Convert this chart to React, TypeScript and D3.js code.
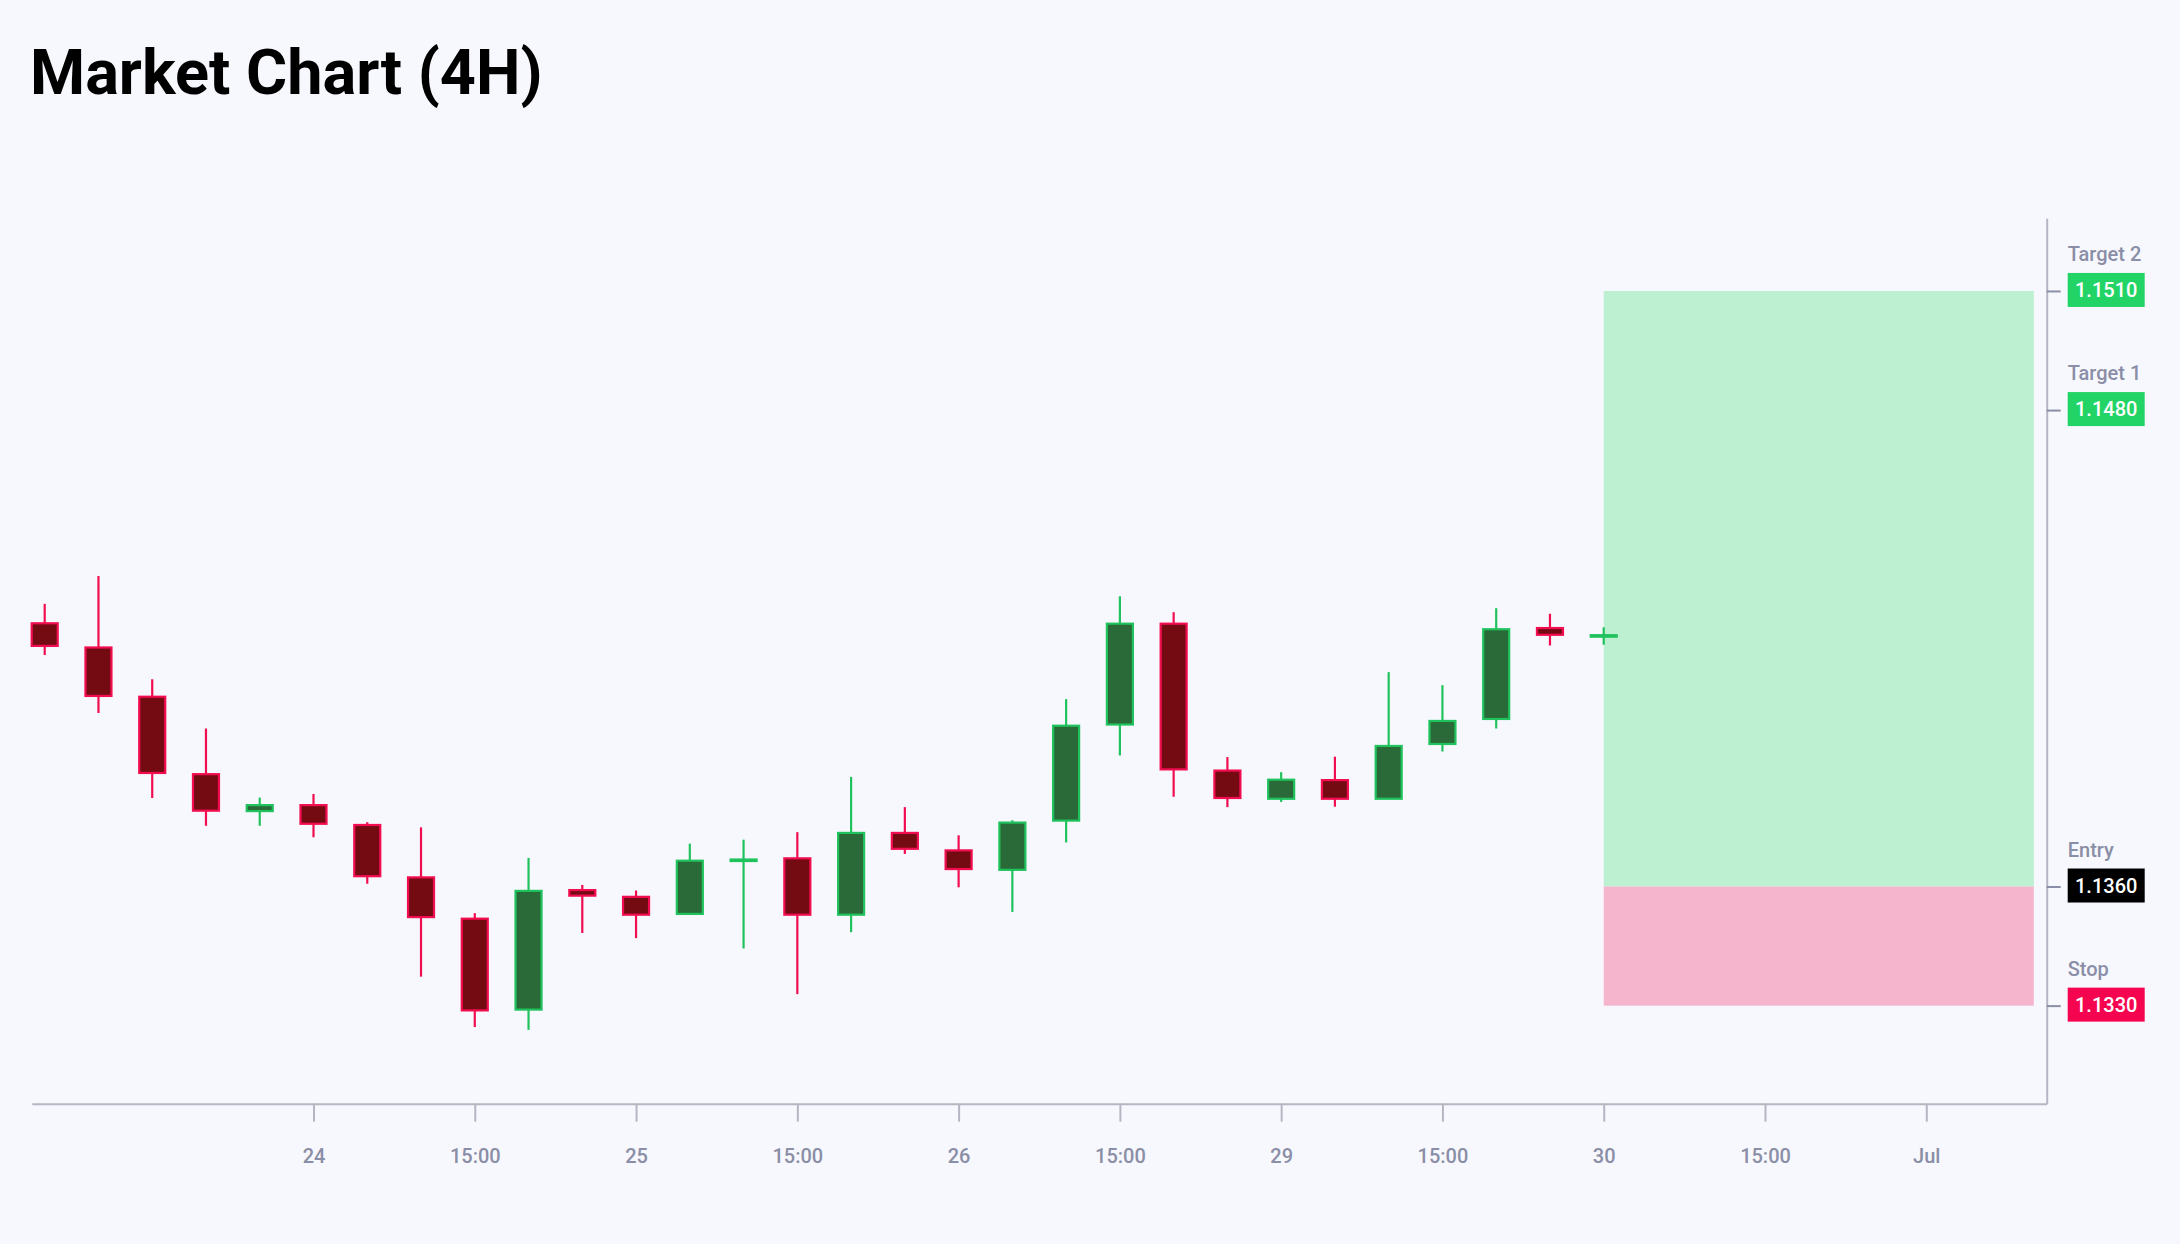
import { useEffect, useRef } from 'react';
import * as d3 from 'd3';

// 4H candles
const opens = [1.14263, 1.14202, 1.14078, 1.13883, 1.1379, 1.13805, 1.13755, 1.13623, 1.13519, 1.1329,
  1.13591, 1.13574, 1.13531, 1.13665, 1.13671, 1.13529, 1.13735, 1.13691, 1.13642, 1.13766,
  1.14008, 1.14262, 1.13892, 1.13821, 1.13868, 1.13821, 1.13959, 1.14022, 1.14251, 1.14231];
const highs = [1.14312, 1.14382, 1.14122, 1.13998, 1.13824, 1.13833, 1.13762, 1.13749, 1.13533, 1.13672,
  1.13604, 1.1359, 1.13708, 1.13718, 1.13737, 1.13876, 1.138, 1.13729, 1.13767, 1.14072,
  1.14331, 1.14291, 1.13926, 1.13888, 1.13927, 1.1414, 1.14107, 1.14301, 1.14287, 1.14253];
const lows = [1.14183, 1.14037, 1.13823, 1.13753, 1.13753, 1.13724, 1.13607, 1.13373, 1.13246, 1.13239,
  1.13483, 1.1347, 1.13531, 1.13444, 1.13329, 1.13485, 1.13682, 1.13598, 1.13536, 1.13711,
  1.1393, 1.13826, 1.138, 1.13813, 1.13801, 1.13821, 1.1394, 1.13998, 1.14207, 1.14209];
const closes = [1.14206, 1.1408, 1.13886, 1.13791, 1.13805, 1.13758, 1.13626, 1.13523, 1.13288, 1.13589,
  1.13577, 1.13529, 1.13665, 1.13668, 1.13529, 1.13735, 1.13695, 1.13644, 1.13761, 1.14005,
  1.14262, 1.13895, 1.13823, 1.13869, 1.13821, 1.13954, 1.14017, 1.14248, 1.14234, 1.14233];

// x ticks sit on candle indices
const tickIndex = [5, 8, 11, 14, 17, 20, 23, 26, 29, 32, 35];
const tickLabels = ["24", "15:00", "25", "15:00", "26", "15:00", "29", "15:00", "30", "15:00", "Jul"];

// trade levels
const levelNames = ["Target 2", "Target 1", "Entry", "Stop"];
const levelValues = [1.151, 1.148, 1.136, 1.133];
const levelColors = ["#22d466", "#22d466", "#000000", "#f5054f"];
const zoneStart = 29;
const zoneEnd = 37;

const UP = { stroke: "#1fc25c", fill: "#2a6a38" };
const DOWN = { stroke: "#f20d50", fill: "#740b12" };
const FONT = "Roboto, 'Noto Sans', sans-serif";

export default function App() {
  const svgRef = useRef<SVGSVGElement>(null);

  useEffect(() => {
    if (!svgRef.current) return;
    const svg = d3.select(svgRef.current);
    svg.selectAll("*").remove();

    const W = 2180, H = 1244;
    svg.append("rect").attr("width", W).attr("height", H).attr("fill", "#f7f8fd");

    svg.append("text")
      .text("Market Chart (4H)")
      .attr("x", 30).attr("y", 94)
      .style("font-family", FONT)
      .style("font-weight", 700)
      .style("font-size", "63px")
      .attr("fill", "#000");

    const x = d3.scaleLinear().domain([-0.24, 37.24]).range([31.8, 2046.7]);
    const y = d3.scaleLinear().domain([1.13053, 1.15283]).range([1103.7, 218.3]);

    // risk / reward zone
    svg.append("rect")
      .attr("x", x(zoneStart)).attr("width", x(zoneEnd) - x(zoneStart))
      .attr("y", y(levelValues[0])).attr("height", y(levelValues[2]) - y(levelValues[0]))
      .attr("fill", "#bdefd1");
    svg.append("rect")
      .attr("x", x(zoneStart)).attr("width", x(zoneEnd) - x(zoneStart))
      .attr("y", y(levelValues[2])).attr("height", y(levelValues[3]) - y(levelValues[2]))
      .attr("fill", "#f5b5cc");

    // candles
    const idx = d3.range(opens.length);
    const bodyW = 26;
    const g = svg.append("g");
    const c = g.selectAll("g.candle").data(idx).enter().append("g").attr("class", "candle");
    c.append("line")
      .attr("x1", i => x(i)).attr("x2", i => x(i))
      .attr("y1", i => y(highs[i])).attr("y2", i => y(lows[i]))
      .attr("stroke", i => (closes[i] >= opens[i] ? UP : DOWN).stroke)
      .attr("stroke-width", 2.2);
    c.append("rect")
      .attr("x", i => x(i) - bodyW / 2)
      .attr("width", bodyW)
      .attr("y", i => y(Math.max(opens[i], closes[i])))
      .attr("height", i => Math.max(1.5, Math.abs(y(opens[i]) - y(closes[i]))))
      .attr("fill", i => (closes[i] >= opens[i] ? UP : DOWN).fill)
      .attr("stroke", i => (closes[i] >= opens[i] ? UP : DOWN).stroke)
      .attr("stroke-width", 2.2);

    // bottom axis
    const xAxis = svg.append("g")
      .attr("transform", `translate(0,${y.range()[0]})`)
      .call(d3.axisBottom(x).tickValues(tickIndex).tickSize(18).tickSizeOuter(0)
        .tickFormat((_, k) => tickLabels[k]));
    xAxis.select(".domain").attr("stroke", "#b4b6c3").attr("stroke-width", 2);
    xAxis.selectAll(".tick line").attr("stroke", "#b4b6c3").attr("stroke-width", 2);
    xAxis.selectAll(".tick text")
      .attr("dy", 0).attr("y", 59.5)
      .attr("fill", "#8a8ea6")
      .style("font-family", FONT).style("font-size", "20px").style("font-weight", 500);

    // right axis with trade levels
    const yAxis = svg.append("g")
      .attr("transform", `translate(${x.range()[1]},0)`)
      .call(d3.axisRight(y).tickValues(levelValues).tickSize(14).tickSizeOuter(0).tickFormat(() => ""));
    yAxis.select(".domain").attr("stroke", "#b4b6c3").attr("stroke-width", 2);
    yAxis.selectAll(".tick line").attr("stroke", "#8a8ea6").attr("stroke-width", 2);

    const lab = svg.append("g").selectAll("g").data(levelValues).enter().append("g")
      .attr("transform", v => `translate(${x.range()[1] + 21},${y(v)})`);
    lab.append("text")
      .text((_, k) => levelNames[k])
      .attr("y", -30)
      .attr("fill", "#8a8ea6")
      .style("font-family", FONT).style("font-size", "20px").style("font-weight", 500);
    lab.append("rect")
      .attr("y", -18).attr("width", 77).attr("height", 34)
      .attr("fill", (_, k) => levelColors[k]);
    lab.append("text")
      .text(v => d3.format(".4f")(v))
      .attr("x", 38.5).attr("y", 6)
      .attr("text-anchor", "middle")
      .attr("fill", "#fff")
      .style("font-family", FONT).style("font-size", "20px").style("font-weight", 500);
  }, []);

  return (
    <svg
      ref={svgRef}
      width={2180}
      height={1244}
      style={{ position: "absolute", top: 0, left: 0, display: "block" }}
    />
  );
}
